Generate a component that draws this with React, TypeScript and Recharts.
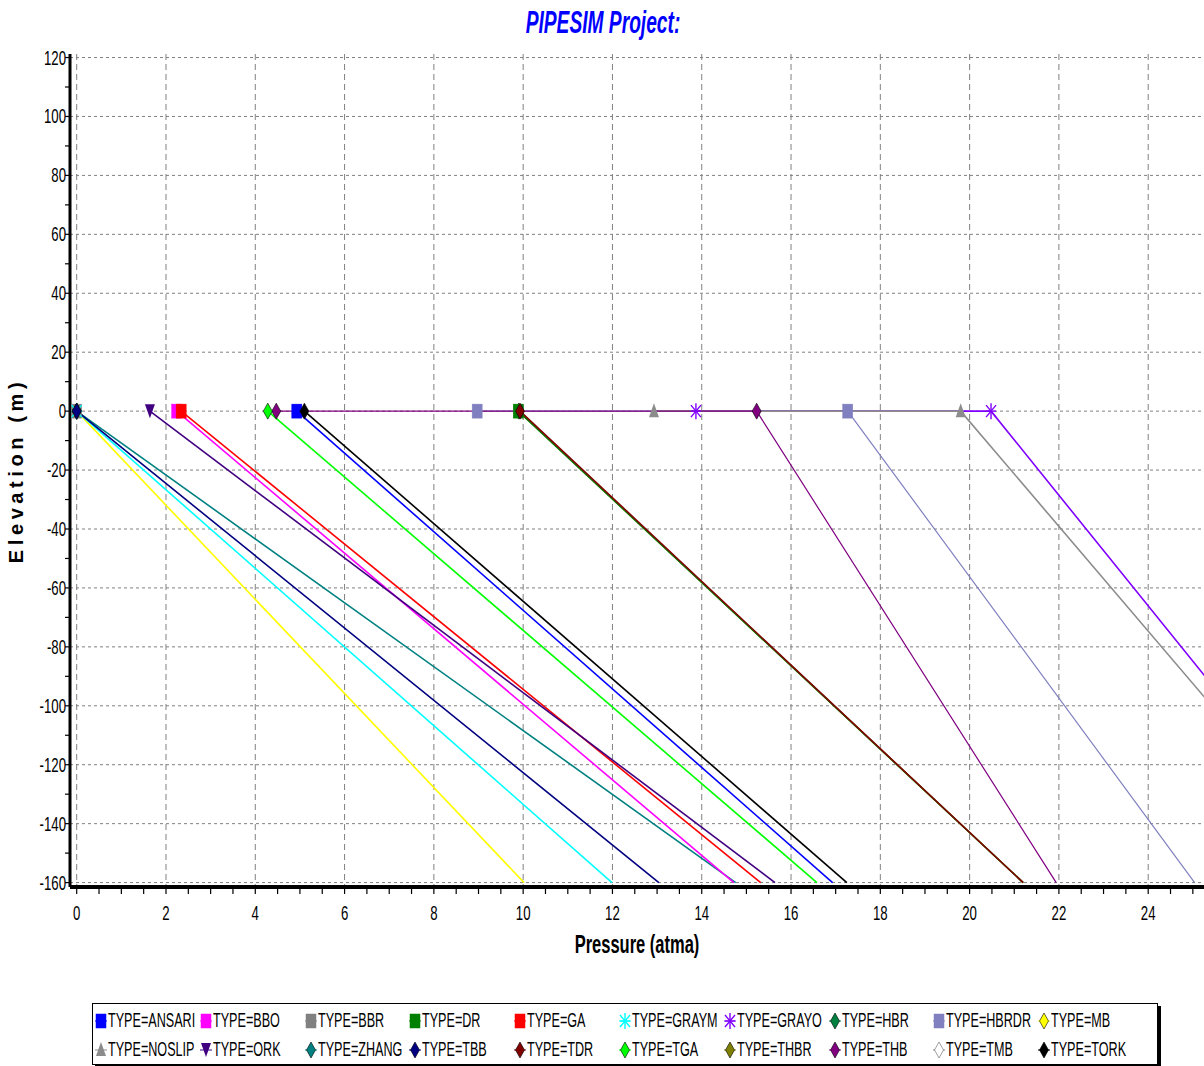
import { LineChart, Line, XAxis, YAxis, CartesianGrid } from 'recharts';

const FONT = '"Liberation Sans", Arial, sans-serif';
const NARROW = 0.66;

const typeNames = [
  'ANSARI', 'BBO', 'BBR', 'DR', 'GA', 'GRAYM', 'GRAYO', 'HBR', 'HBRDR', 'MB',
  'NOSLIP', 'ORK', 'ZHANG', 'TBB', 'TDR', 'TGA', 'THBR', 'THB', 'TMB', 'TORK',
];
const typeColors = [
  '#0000FF', '#FF00FF', '#808080', '#008000', '#FF0000', '#00FFFF', '#8000FF', '#008040', '#8080C0', '#FFFF00',
  '#8C8C8C', '#400080', '#008080', '#000080', '#800000', '#00FF00', '#808000', '#800080', '#FFFFFF', '#000000',
];
const typeMarkers = [
  'square', 'square', 'square', 'square', 'square', 'star', 'star', 'diamond', 'square', 'diamond',
  'triangle', 'triangleDown', 'diamond', 'diamond', 'diamond', 'diamond', 'diamond', 'diamond', 'diamond', 'diamond',
];

// pressure (atma) at each profile point
const ansariPressure = [4.93, 16.93];
const bboPressure = [2.24, 14.72];
const bbrPressure = [0];
const drPressure = [9.89, 21.2];
const gaPressure = [2.34, 15.32];
const graymPressure = [0, 11.99];
const grayoPressure = [13.87, 20.48, 29.0];
const hbrPressure = [0];
const hbrdrPressure = [8.97, 17.27, 25.04];
const mbPressure = [0, 10.02];
const noslipPressure = [12.93, 19.8, 28.8];
const orkPressure = [1.64, 15.64];
const zhangPressure = [0, 14.76];
const tbbPressure = [0, 13.04];
const tdrPressure = [9.93, 21.2];
const tgaPressure = [4.28, 16.58];
const thbrPressure = [9.9, 21.2];
const thbPressure = [4.47, 15.23, 21.94];
const tmbPressure = [0];
const torkPressure = [5.1, 17.25];

// elevation (m) of each profile point
const surfaceToBottom = [0, -160];
const flowlineToBottom = [0, 0, -160];
const surfaceOnly = [0];

const profilePressures = [
  ansariPressure, bboPressure, bbrPressure, drPressure, gaPressure, graymPressure, grayoPressure, hbrPressure, hbrdrPressure, mbPressure,
  noslipPressure, orkPressure, zhangPressure, tbbPressure, tdrPressure, tgaPressure, thbrPressure, thbPressure, tmbPressure, torkPressure,
];
const profileElevations = [
  surfaceToBottom, surfaceToBottom, surfaceOnly, surfaceToBottom, surfaceToBottom, surfaceToBottom, flowlineToBottom, surfaceOnly, flowlineToBottom, surfaceToBottom,
  flowlineToBottom, surfaceToBottom, surfaceToBottom, surfaceToBottom, surfaceToBottom, surfaceToBottom, surfaceToBottom, flowlineToBottom, surfaceOnly, surfaceToBottom,
];

const drawOrder = [
  'BBR', 'HBR', 'TMB', 'HBRDR', 'GRAYO', 'NOSLIP', 'THB', 'THBR', 'DR', 'TDR',
  'MB', 'GRAYM', 'ZHANG', 'BBO', 'GA', 'ORK', 'TGA', 'ANSARI', 'TORK', 'TBB',
];

const xMajorTicks = [0, 2, 4, 6, 8, 10, 12, 14, 16, 18, 20, 22, 24];
const xTicks = [
  0, 0.5, 1, 1.5, 2, 2.5, 3, 3.5, 4, 4.5, 5, 5.5, 6, 6.5, 7, 7.5, 8, 8.5, 9, 9.5, 10, 10.5, 11, 11.5, 12, 12.5,
  13, 13.5, 14, 14.5, 15, 15.5, 16, 16.5, 17, 17.5, 18, 18.5, 19, 19.5, 20, 20.5, 21, 21.5, 22, 22.5, 23, 23.5, 24, 24.5, 25,
];
const yMajorTicks = [120, 100, 80, 60, 40, 20, 0, -20, -40, -60, -80, -100, -120, -140, -160];
const yTicks = [
  120, 110, 100, 90, 80, 70, 60, 50, 40, 30, 20, 10, 0, -10, -20, -30, -40, -50, -60, -70, -80,
  -90, -100, -110, -120, -130, -140, -150, -160,
];

const xDomain = [-0.15, 25.25];
const yDomain = [-161.5, 121.2];

function Marker({ cx, cy, shape, color }: { cx: number; cy: number; shape: string; color: string }) {
  const edge = color === '#FFFFFF' ? '#808080' : color;
  if (shape === 'square') {
    return <rect x={cx - 5} y={cy - 7} width={10} height={14} fill={color} stroke={edge} strokeWidth={0.5} />;
  }
  if (shape === 'diamond') {
    return (
      <polygon
        points={`${cx},${cy - 8} ${cx + 4.5},${cy} ${cx},${cy + 8} ${cx - 4.5},${cy}`}
        fill={color}
        stroke={color === '#FFFFFF' ? '#606060' : '#000'}
        strokeWidth={0.6}
      />
    );
  }
  if (shape === 'triangle') {
    return <polygon points={`${cx},${cy - 8} ${cx + 5},${cy + 6} ${cx - 5},${cy + 6}`} fill={color} />;
  }
  if (shape === 'triangleDown') {
    return <polygon points={`${cx - 5},${cy - 7} ${cx + 5},${cy - 7} ${cx},${cy + 7}`} fill={color} />;
  }
  return (
    <g stroke={color} strokeWidth={1.4}>
      <line x1={cx} y1={cy - 8} x2={cx} y2={cy + 8} />
      <line x1={cx - 5} y1={cy - 6} x2={cx + 5} y2={cy + 6} />
      <line x1={cx - 5} y1={cy + 6} x2={cx + 5} y2={cy - 6} />
      <line x1={cx - 5} y1={cy} x2={cx + 5} y2={cy} />
    </g>
  );
}

function NarrowText({ x, y, anchor, size, weight, children }: any) {
  return (
    <text
      transform={`translate(${x},${y}) scale(${NARROW},1)`}
      textAnchor={anchor}
      fontFamily={FONT}
      fontSize={size}
      fontWeight={weight || 'normal'}
      fill="#000"
    >
      {children}
    </text>
  );
}

const XTick = ({ x, y, payload }: any) => {
  const major = xMajorTicks.includes(payload.value);
  return (
    <g>
      <line x1={x} x2={x} y1={y} y2={y + 7} stroke="#000" strokeWidth={1.2} />
      {major && (
        <NarrowText x={x} y={y + 33} anchor="middle" size={20}>
          {payload.value}
        </NarrowText>
      )}
    </g>
  );
};

const YTick = ({ x, y, payload }: any) => {
  const major = yMajorTicks.includes(payload.value);
  return (
    <g>
      <line x1={x} x2={x - 5} y1={y} y2={y} stroke="#000" strokeWidth={1.2} />
      {major && (
        <NarrowText x={x - 4} y={y + 7} anchor="end" size={20}>
          {payload.value}
        </NarrowText>
      )}
    </g>
  );
};

function LegendBox() {
  return (
    <div
      style={{
        position: 'absolute',
        left: 92,
        top: 1003,
        width: 1066,
        height: 62,
        border: '1px solid #000',
        boxShadow: '3px 3px 0 #000',
        background: '#fff',
        display: 'grid',
        gridTemplateColumns: 'repeat(10, 104.8px)',
        gridTemplateRows: '29px 29px',
        paddingLeft: 2,
        paddingTop: 2,
        boxSizing: 'border-box',
      }}
    >
      {typeNames.map((name, i) => (
        <div key={name} style={{ display: 'flex', alignItems: 'center', fontFamily: FONT, fontSize: 20, whiteSpace: 'nowrap' }}>
          <svg width={12} height={18} style={{ flexShrink: 0, marginRight: 1 }}>
            <line x1={0} x2={12} y1={9} y2={9} stroke={typeColors[i] === '#FFFFFF' ? '#808080' : typeColors[i]} strokeWidth={1} />
            <Marker cx={6} cy={9} shape={typeMarkers[i]} color={typeColors[i]} />
          </svg>
          <span style={{ display: 'inline-block', transform: `scaleX(${NARROW - 0.03})`, transformOrigin: 'left center' }}>
            TYPE={name}
          </span>
        </div>
      ))}
    </div>
  );
}

export default function App() {
  const series = drawOrder.map((name) => {
    const i = typeNames.indexOf(name);
    const data = profilePressures[i].map((p, k) => ({ p, e: profileElevations[i][k] }));
    return { name, color: typeColors[i], shape: typeMarkers[i], data };
  });

  return (
    <div style={{ position: 'absolute', left: 0, top: 0, width: 1204, height: 1066, background: '#fff', overflow: 'hidden' }}>
      <svg width={1204} height={50} style={{ position: 'absolute', left: 0, top: 0 }}>
        <text
          transform={`translate(603,33) scale(0.6,1)`}
          textAnchor="middle"
          fontFamily={FONT}
          fontSize={32}
          fontWeight="bold"
          fontStyle="italic"
          fill="#0000FF"
        >
          PIPESIM Project:
        </text>
      </svg>
      <div style={{ position: 'absolute', left: 0, top: 0 }}>
        <LineChart width={1204} height={1066} margin={{ top: 54, right: 0, bottom: 109, left: 0 }}>
          <CartesianGrid vertical horizontal={false} verticalValues={xMajorTicks} stroke="#808080" strokeDasharray="6 4" />
          <CartesianGrid vertical={false} horizontal horizontalValues={yMajorTicks} stroke="#808080" strokeDasharray="3 3" />
          <XAxis
            xAxisId="top"
            orientation="top"
            type="number"
            domain={xDomain}
            allowDataOverflow
            height={0}
            tick={false}
            tickLine={false}
            axisLine={{ stroke: '#000', strokeWidth: 3 }}
          />
          <XAxis
            type="number"
            dataKey="p"
            domain={xDomain}
            allowDataOverflow
            ticks={xTicks}
            interval={0}
            tickSize={0}
            tickMargin={0}
            tickLine={false}
            tick={<XTick />}
            height={70}
            axisLine={{ stroke: '#000', strokeWidth: 4 }}
            label={(props: any) => {
              const vb = props.viewBox;
              return (
                <NarrowText x={vb.x + vb.width / 2} y={vb.y + 66} anchor="middle" size={25} weight="bold">
                  Pressure (atma)
                </NarrowText>
              );
            }}
          />
          <YAxis
            type="number"
            dataKey="e"
            domain={yDomain}
            allowDataOverflow
            ticks={yTicks}
            interval={0}
            tickSize={0}
            tickMargin={0}
            tickLine={false}
            tick={<YTick />}
            width={70}
            axisLine={{ stroke: '#000', strokeWidth: 3 }}
            label={(props: any) => {
              const vb = props.viewBox;
              const cy = vb.y + vb.height / 2;
              return (
                <text
                  transform={`translate(23,${cy}) rotate(-90)`}
                  textAnchor="middle"
                  fontFamily={FONT}
                  fontSize={20}
                  fontWeight="bold"
                  letterSpacing={4.6}
                  fill="#000"
                >
                  Elevation (m)
                </text>
              );
            }}
          />
          {series.map((s) => (
            <Line
              key={`line-${s.name}`}
              data={s.data}
              dataKey="e"
              type="linear"
              stroke={s.color === '#FFFFFF' ? '#C0C0C0' : s.color}
              strokeWidth={s.name === 'THB' || s.name === 'HBRDR' ? 1.2 : 1.6}
              dot={false}
              activeDot={false}
              legendType="none"
              isAnimationActive={false}
            />
          ))}
          {series.map((s) => (
            <Line
              key={`dots-${s.name}`}
              data={s.data}
              dataKey="e"
              stroke="none"
              dot={(props: any) =>
                props.payload.e === 0 ? (
                  <Marker key={`${s.name}-${props.index}`} cx={props.cx} cy={props.cy} shape={s.shape} color={s.color} />
                ) : (
                  <g key={`${s.name}-${props.index}`} />
                )
              }
              activeDot={false}
              legendType="none"
              isAnimationActive={false}
            />
          ))}
        </LineChart>
      </div>
      <LegendBox />
    </div>
  );
}
